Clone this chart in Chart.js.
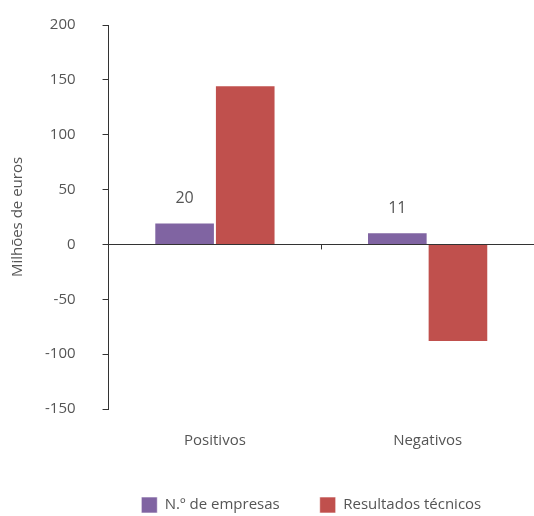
<!DOCTYPE html>
<html>
<head>
<meta charset="utf-8">
<script src="https://cdn.jsdelivr.net/npm/chart.js@4"></script>
<style>
  html, body { margin: 0; padding: 0; background: #fff; }
  #wrap { width: 534px; height: 516px; }
</style>
</head>
<body>
<div id="wrap"><canvas id="barChart"></canvas></div>
<script>
const categories = ['Positivos', 'Negativos'];
const empresas = [20, 11];
const resultados = [145, -89];
const seriesNames = ['N.º de empresas', 'Resultados técnicos'];
const yTicks = [-150, -100, -50, 0, 50, 100, 150, 200];

const textColor = '#555';
const fontFamily = '"Open Sans", "Noto Sans", sans-serif';
const legendShift = -16;
const legendShiftX = -10;

// numbers above the purple bars + the small tick between the two groups
const extras = {
  id: 'extras',
  afterLayout(chart) {
    // move the legend drawing without changing the plot size
    if (chart.legend) {
      chart.legend.top += legendShift;
      chart.legend.bottom += legendShift;
      chart.legend.left += legendShiftX;
      chart.legend.right += legendShiftX;
    }
  },
  afterDatasetsDraw(chart) {
    const c = chart.ctx;
    const meta = chart.getDatasetMeta(0);
    c.save();
    c.fillStyle = textColor;
    c.font = '16px ' + fontFamily;
    c.textAlign = 'center';
    c.textBaseline = 'middle';
    meta.data.forEach((bar, i) => {
      c.fillText(String(empresas[i]), bar.x, bar.y - 24);
    });
    const x = chart.scales.x, y = chart.scales.y;
    const mid = Math.round((x.getPixelForValue(0) + x.getPixelForValue(1)) / 2) + 0.5;
    const zero = y.getPixelForValue(0);
    c.strokeStyle = '#333';
    c.lineWidth = 1;
    c.beginPath();
    c.moveTo(mid, zero);
    c.lineTo(mid, zero + 5);
    c.stroke();
    c.restore();
  }
};

new Chart(document.getElementById('barChart'), {
  type: 'bar',
  data: {
    labels: categories,
    datasets: [{
      label: seriesNames[0],
      data: empresas,
      backgroundColor: '#8064A2',
      borderColor: 'rgba(255,255,255,0.6)',
      borderWidth: 1
    }, {
      label: seriesNames[1],
      data: resultados,
      backgroundColor: '#C0504D',
      borderColor: 'rgba(255,255,255,0.6)',
      borderWidth: 1
    }]
  },
  options: {
    responsive: true,
    maintainAspectRatio: false,
    animation: false,
    categoryPercentage: 0.57,
    barPercentage: 1,
    layout: { padding: { top: 25, right: 0, left: 0, bottom: -23 } },
    plugins: {
      tooltip: { enabled: false },
      legend: {
        display: true,
        position: 'bottom',
        fullSize: false,
        labels: {
          boxWidth: 16,
          boxHeight: 16,
          padding: 40,
          color: textColor,
          font: { size: 15, family: fontFamily }
        }
      }
    },
    scales: {
      x: {
        grid: { display: false, drawTicks: false },
        border: { display: false },
        ticks: { color: textColor, padding: 23, font: { size: 15, family: fontFamily } }
      },
      y: {
        min: -150,
        max: 200,
        afterBuildTicks(scale) { scale.ticks = yTicks.map(v => ({ value: v })); },
        afterFit(scale) { scale.paddingTop = 0; scale.paddingBottom = 0; },
        border: { display: true, color: '#333', width: 1 },
        grid: {
          drawOnChartArea: true,
          color: ctx => (ctx.tick && ctx.tick.value === 0 ? '#333' : 'rgba(0,0,0,0)'),
          tickColor: '#333',
          tickLength: 6
        },
        ticks: { color: textColor, padding: 27, font: { size: 15, family: fontFamily } },
        title: {
          display: true,
          text: 'Milhões de euros',
          color: textColor,
          padding: { top: 9, bottom: -9 },
          font: { size: 15, family: fontFamily }
        }
      }
    }
  },
  plugins: [extras]
});
</script>
</body>
</html>
